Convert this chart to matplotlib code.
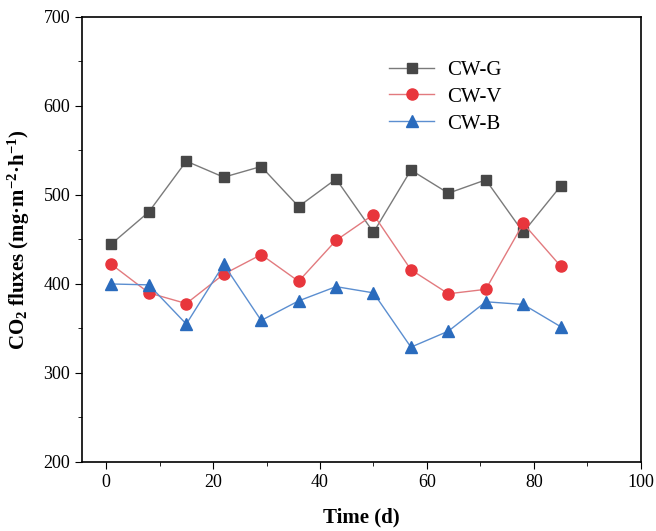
import numpy as np
import matplotlib
matplotlib.use("Agg")
import matplotlib.pyplot as plt
from matplotlib.ticker import MultipleLocator

plt.rcParams['font.family'] = ['Liberation Serif']
plt.rcParams['mathtext.fontset'] = 'custom'
plt.rcParams['mathtext.rm'] = 'Liberation Serif:bold'
plt.rcParams['mathtext.it'] = 'Liberation Serif:bold'
plt.rcParams['mathtext.bf'] = 'Liberation Serif:bold'

# data
days = [1, 8, 15, 22, 29, 36, 43, 50, 57, 64, 71, 78, 85]
cw_g = [445, 481, 538, 520, 532, 487, 518, 458, 528, 502, 517, 458, 510]
cw_v = [422, 390, 378, 411, 433, 403, 449, 478, 416, 389, 394, 468, 420]
cw_b = [400, 399, 355, 422, 359, 381, 397, 390, 329, 347, 380, 377, 352]

fig = plt.figure(figsize=(6.56, 5.31), dpi=100)
ax = fig.add_axes([0.125, 0.130, 0.852, 0.838])

ax.plot(days, cw_g, color='#7a7a7a', lw=1, marker='s', ms=7.5,
        mfc='#474747', mec='#474747', label='CW-G')
ax.plot(days, cw_v, color='#e27a7e', lw=1, marker='o', ms=8,
        mfc='#e8363c', mec='#e8363c', label='CW-V')
ax.plot(days, cw_b, color='#5b8ed0', lw=1, marker='^', ms=8.5,
        mfc='#2a6bbd', mec='#2a6bbd', label='CW-B')

ax.set_xlim(-4.5, 100)
ax.set_ylim(200, 700)
ax.xaxis.set_major_locator(MultipleLocator(20))
ax.xaxis.set_minor_locator(MultipleLocator(10))
ax.yaxis.set_major_locator(MultipleLocator(100))
ax.yaxis.set_minor_locator(MultipleLocator(50))
ax.tick_params(which='both', direction='out', labelsize=13)
ax.tick_params(which='major', length=5)
ax.tick_params(which='minor', length=3)
for s in ax.spines.values():
    s.set_linewidth(1.2)

ax.set_xlabel('Time (d)', fontsize=15, fontweight='bold', labelpad=12)
ax.set_ylabel('CO$_2$ fluxes (mg·m$^{-2}$·h$^{-1}$)', fontsize=15,
              fontweight='bold', labelpad=8)

ax.legend(loc='upper left', bbox_to_anchor=(0.515, 0.945), frameon=False,
          fontsize=15, handlelength=2.2, handletextpad=0.6, labelspacing=0.35)

fig.savefig('out.png', dpi=100)
